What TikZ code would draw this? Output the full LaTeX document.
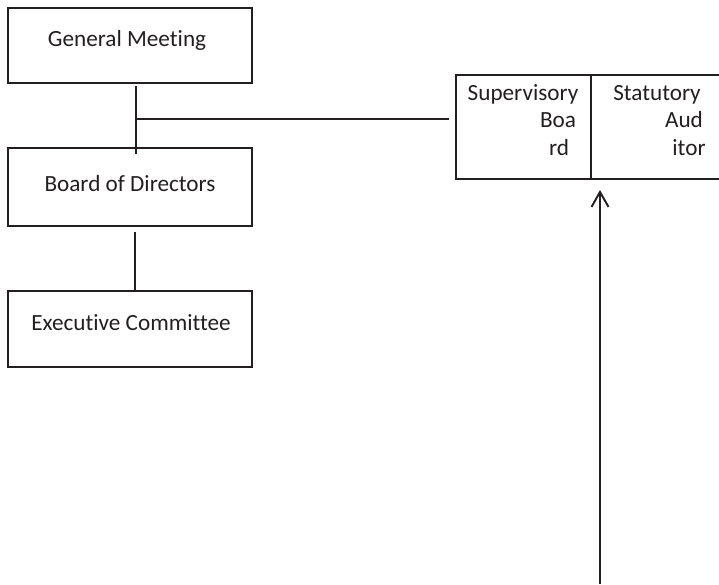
\documentclass[tikz,border=0pt]{standalone}
\usepackage{fontspec}
\setmainfont[Ligatures={NoCommon}]{Carlito}
\usetikzlibrary{arrows.meta}

\definecolor{ink}{HTML}{231F20}

\tikzset{
	orgbox/.style={draw=ink, line width=1.1pt, rectangle, inner sep=0pt},
	orgtext/.style={anchor=base, inner sep=0pt, text=ink, font=\fontsize{13.2}{16}\selectfont},
	orgline/.style={draw=ink, line width=1.1pt}
}

\begin{document}
\begin{tikzpicture}[x=0.02cm, y=-0.02cm]
		
		\useasboundingbox (0,0) rectangle (719,584);
		
		% Left column
		\node [orgbox,
		minimum width=244*0.02cm,
		minimum height=75*0.02cm] (gm) at (130,45.5){};
		
		\node[orgtext] (gmtext) at (127,47) {General Meeting};
		
		\node [orgbox,
		minimum width=244*0.02cm,
		minimum height=78*0.02cm] (bod) at (130,187){};
		
		\node[orgtext] (bodtext) at (130,192) {Board of Directors};
		
		\node [orgbox,
		minimum width=244*0.02cm,
		minimum height=76*0.02cm] (ec) at (130,329){};
		
		\node[orgtext] (ectext) at (131,330) {Executive Committee};
		
		% Right boxes
		\node [orgbox,
		minimum width=135*0.02cm,
		minimum height=104*0.02cm] (sb) at (523.5,127){};
		
		\node [orgbox,
		minimum width=140*0.02cm,
		minimum height=104*0.02cm] (sa) at (661,127){};
		
		\node[orgtext] (sb1) at (523,101) {Supervisory};
		\node[orgtext] (sb2) at (558,128) {Boa};
		\node[orgtext] (sb3) at (559,155) {rd};
		
		\node[orgtext] (sa1) at (657,101) {Statutory};
		\node[orgtext] (sa2) at (684,128) {Aud};
		\node[orgtext] (sa3) at (689,155) {itor};
		
		% Connectors
		\coordinate (gmbot) at (136,86);
		\coordinate (bodtop) at (136,154);
		\coordinate (split) at (136,119);
		\coordinate (sbleft) at (449,119);
		\coordinate (bodbot) at (135,232);
		\coordinate (ectop) at (135,291);
		\coordinate (arrowfoot) at (600,584);
		\coordinate (arrowtip) at (600,190);
		
		\draw[orgline] (gmbot) -- (bodtop);
		\draw[orgline] (split) -- (sbleft);
		\draw[orgline] (bodbot) -- (ectop);
		\draw[orgline, -{Straight Barb[length=3mm, width=3.4mm]}] (arrowfoot) -- (arrowtip);
		
	\end{tikzpicture}
\end{document}
